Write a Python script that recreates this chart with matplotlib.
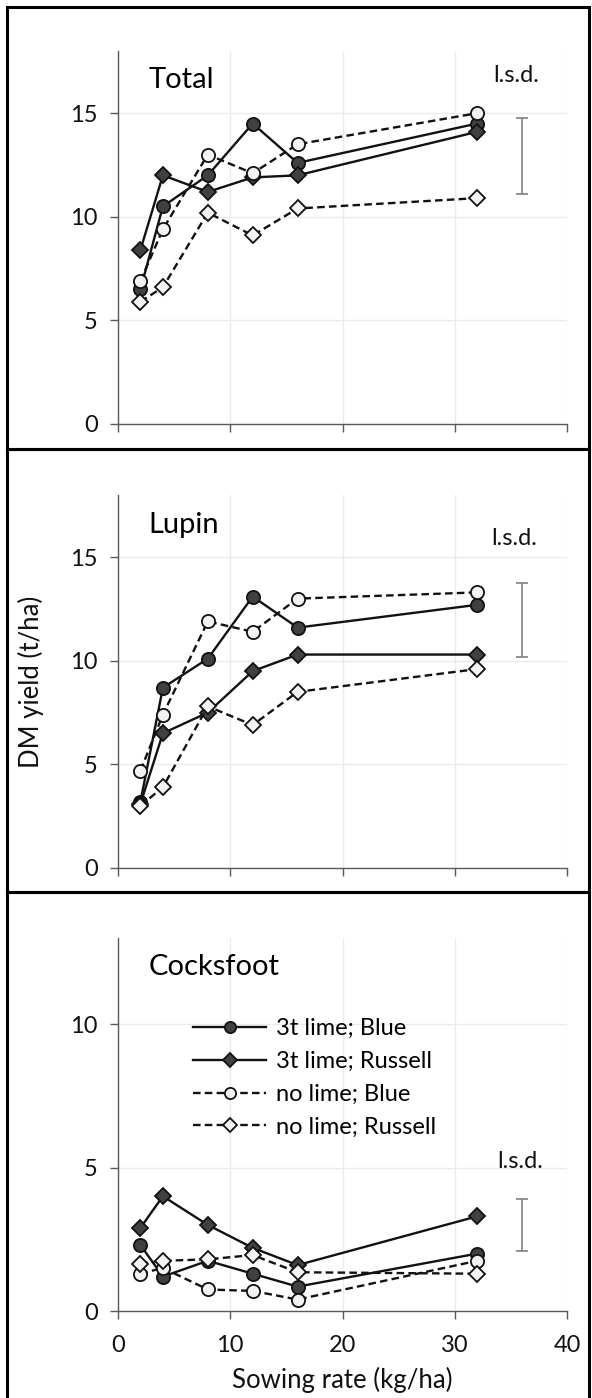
import matplotlib
matplotlib.use('Agg')
import matplotlib.pyplot as plt
from matplotlib.patches import Rectangle

plt.rcParams['font.family'] = ['Lato', 'DejaVu Sans']

# Data
rate = [2, 4, 8, 12, 16, 32]
series = ['3t lime; Blue', '3t lime; Russell', 'no lime; Blue', 'no lime; Russell']
panels = ['Total', 'Lupin', 'Cocksfoot']

total_lime_blue = [6.5, 10.5, 12.0, 14.5, 12.6, 14.5]
total_lime_russell = [8.4, 12.0, 11.2, 11.9, 12.0, 14.1]
total_nolime_blue = [6.9, 9.4, 13.0, 12.1, 13.5, 15.0]
total_nolime_russell = [5.9, 6.6, 10.2, 9.1, 10.4, 10.9]

lupin_lime_blue = [3.2, 8.7, 10.1, 13.1, 11.6, 12.7]
lupin_lime_russell = [3.1, 6.5, 7.5, 9.5, 10.3, 10.3]
lupin_nolime_blue = [4.7, 7.4, 11.9, 11.4, 13.0, 13.3]
lupin_nolime_russell = [3.0, 3.9, 7.8, 6.9, 8.5, 9.6]

cock_lime_blue = [2.3, 1.2, 1.75, 1.3, 0.85, 2.0]
cock_lime_russell = [2.9, 4.0, 3.0, 2.2, 1.6, 3.3]
cock_nolime_blue = [1.3, 1.5, 0.75, 0.7, 0.4, 1.75]
cock_nolime_russell = [1.65, 1.75, 1.8, 1.95, 1.35, 1.3]

lsd_lo = [11.1, 10.2, 2.1]
lsd_hi = [14.75, 13.75, 3.9]

panel_data = [
    [total_lime_blue, total_lime_russell, total_nolime_blue, total_nolime_russell],
    [lupin_lime_blue, lupin_lime_russell, lupin_nolime_blue, lupin_nolime_russell],
    [cock_lime_blue, cock_lime_russell, cock_nolime_blue, cock_nolime_russell],
]

# styles for the four series
markers = ['o', 'D', 'o', 'D']
msizes = [9.5, 8.5, 9.5, 8.5]
fills = ['#404040', '#404040', '#f2f2f2', '#f2f2f2']
lstyles = ['-', '-', (0, (3.2, 1.8)), (0, (3.2, 1.8))]

W, H = 592, 1398
fig = plt.figure(figsize=(W / 100, H / 100), dpi=100)

# axes boxes in pixels: (top, bottom)
ax_px = [(51, 424), (495, 868), (938, 1311)]
ylims = [18, 18, 13]
yticks = [[0, 5, 10, 15], [0, 5, 10, 15], [0, 5, 10]]
title_y = [16.6, 16.55, 12.0]
lsd_text_x = [35.5, 35.3, 35.8]
lsd_text_y = [16.8, 15.9, 5.2]

# outer panel frames
frames = [(7, 449), (449, 892), (892, 1402)]
for t, b in frames:
    fig.add_artist(Rectangle((7 / W, 1 - b / H), (589 - 7) / W, (b - t) / H,
                             transform=fig.transFigure, fill=False,
                             edgecolor='black', linewidth=2.2))

axes = []
for i, (t, b) in enumerate(ax_px):
    ax = fig.add_axes([118 / W, 1 - b / H, (567 - 118) / W, (b - t) / H])
    axes.append(ax)
    for j, vals in enumerate(panel_data[i]):
        ax.plot(rate, vals, linestyle=lstyles[j], color='#111111', linewidth=1.7,
                marker=markers[j], markersize=msizes[j], markerfacecolor=fills[j],
                markeredgecolor='#111111', markeredgewidth=1.3, label=series[j])
    # l.s.d. bar
    mid = (lsd_lo[i] + lsd_hi[i]) / 2
    half = (lsd_hi[i] - lsd_lo[i]) / 2
    ax.errorbar([36], [mid], yerr=[half], fmt='none', ecolor='#808080',
                elinewidth=1.2, capsize=4.5, capthick=1.2)
    ax.text(lsd_text_x[i], lsd_text_y[i], 'l.s.d.', ha='center', va='center',
            fontsize=17, color='#111111')
    ax.text(2.7, title_y[i], panels[i], ha='left', va='center', fontsize=21, color='black')

    ax.set_xlim(0, 40)
    ax.set_ylim(0, ylims[i])
    ax.set_xticks([0, 10, 20, 30, 40])
    ax.set_yticks(yticks[i])
    ax.grid(True, color='#ebebeb', linewidth=1)
    ax.set_axisbelow(True)
    for s in ['top', 'right']:
        ax.spines[s].set_visible(False)
    for s in ['left', 'bottom']:
        ax.spines[s].set_color('#595959')
        ax.spines[s].set_linewidth(1)
    ax.tick_params(direction='out', length=5.5, width=1, color='#595959',
                   labelsize=17, labelcolor='#111111')
    ax.tick_params(axis='y', pad=9)
    ax.tick_params(axis='x', pad=12)
    if i < 2:
        ax.tick_params(axis='x', labelbottom=False)

axes[1].set_ylabel('DM yield (t/ha)', fontsize=18.5, color='#111111')
axes[1].yaxis.set_label_coords(-0.165, 0.5)
axes[2].set_xlabel('Sowing rate (kg/ha)', fontsize=18.5, color='#111111')
axes[2].xaxis.set_label_coords(0.5, -0.15)

axes[2].legend(loc='upper left', bbox_to_anchor=(0.167, 0.785), frameon=False,
               fontsize=17, handlelength=3.1, handletextpad=0.42, labelspacing=0.5,
               borderpad=0, borderaxespad=0, markerscale=0.85)

fig.savefig('out.png', dpi=100)
